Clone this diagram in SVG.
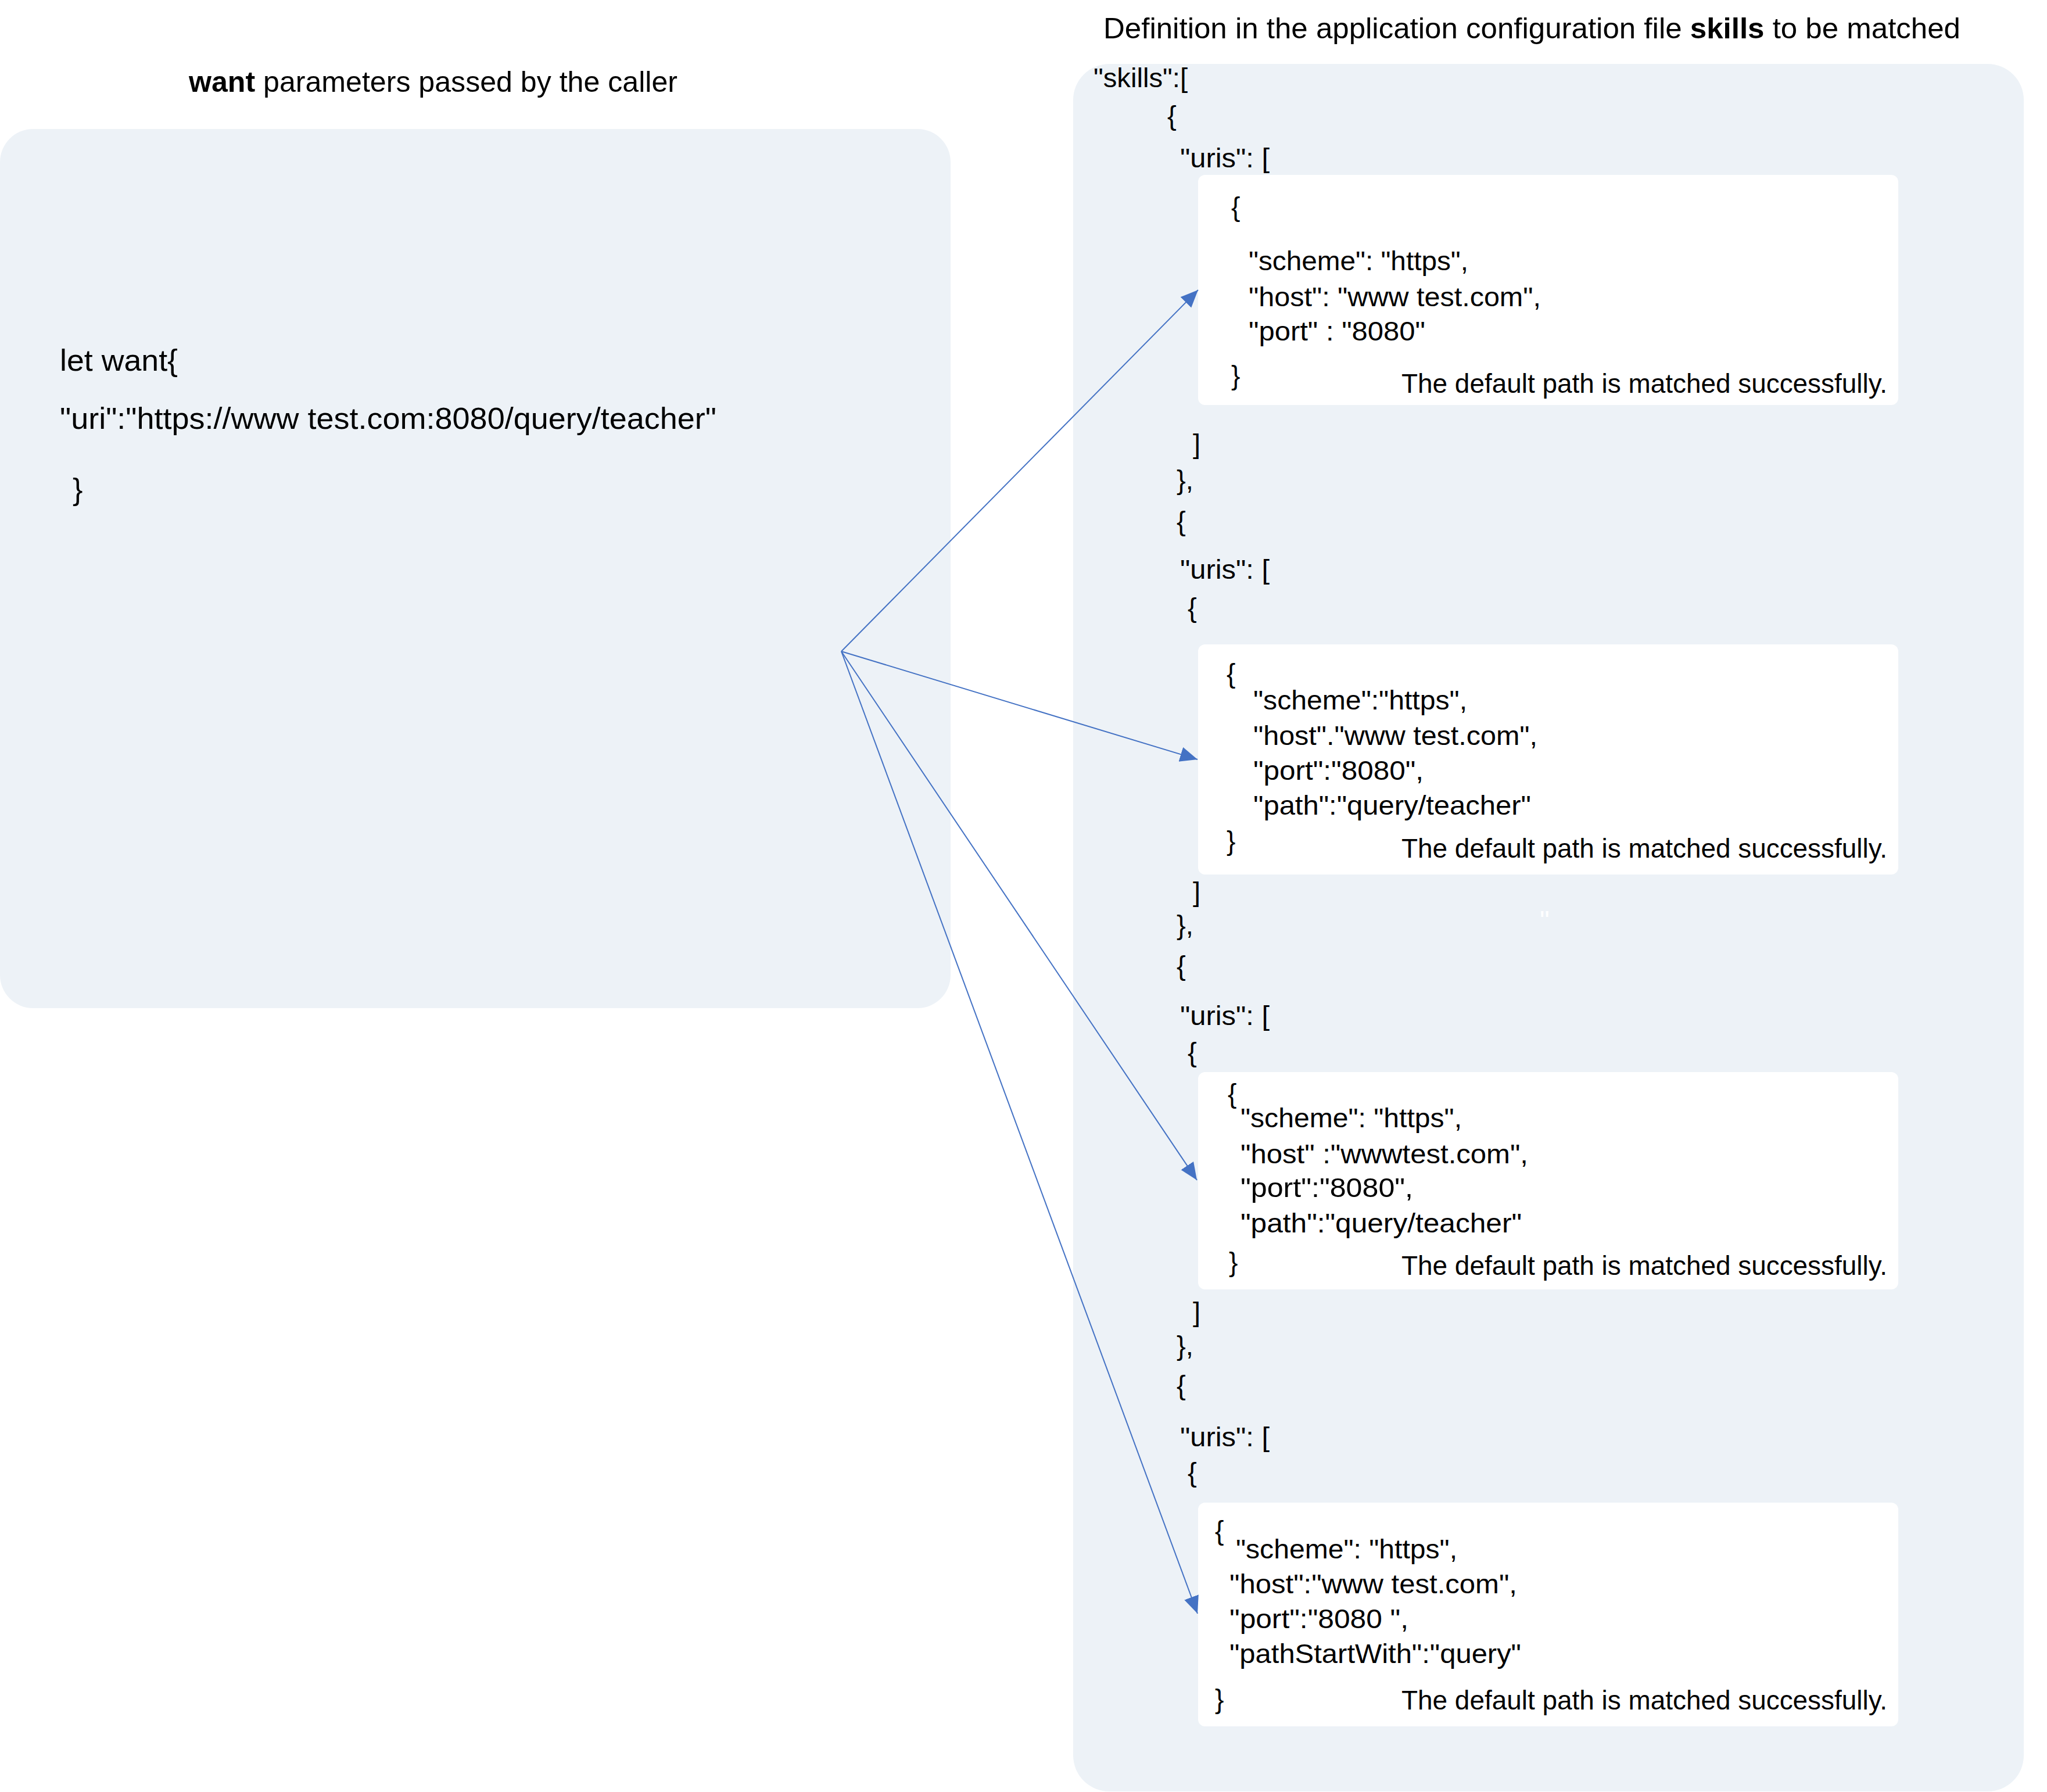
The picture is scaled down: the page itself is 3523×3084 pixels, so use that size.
<svg xmlns="http://www.w3.org/2000/svg" width="3523" height="3084" viewBox="0 0 3523 3084">
<style>
.t{font-family:"Liberation Sans",Arial,sans-serif;font-size:46px;fill:#000}
.h{font-size:50px}
.l{font-size:52px}
.o{font-size:47px}
.b{font-weight:bold}
.panel{fill:#EDF2F7}
.box{fill:#FFFFFF}
.conn{stroke:#4472C4;stroke-width:2;fill:none}
</style>
<defs>
<marker id="ah" markerUnits="userSpaceOnUse" markerWidth="32" markerHeight="28" refX="30" refY="13" orient="auto">
<path d="M0,0 L30,13 L0,26 Z" fill="#4472C4"/>
</marker>
</defs>
<rect width="3523" height="3084" fill="#FFFFFF"/>
<g id="title-left"><text class="t h" x="325" y="158" textLength="841" lengthAdjust="spacingAndGlyphs"><tspan class="b">want</tspan> parameters passed by the caller</text></g>
<g id="title-right"><text class="t h" x="1899" y="66" textLength="1475" lengthAdjust="spacingAndGlyphs">Definition in the application configuration file <tspan class="b">skills</tspan> to be matched</text></g>
<g id="want-node">
<rect class="panel" x="0" y="222" width="1636" height="1513" rx="57" ry="57"/>
<text class="t l" x="103" y="638" textLength="203" lengthAdjust="spacingAndGlyphs">let want{</text>
<text class="t l" x="103" y="738" textLength="1130" lengthAdjust="spacingAndGlyphs">"uri":"https://www test.com:8080/query/teacher"</text>
<text class="t l" x="125" y="860">}</text>
</g>
<g id="skills-node">
<rect class="panel" x="1847" y="110" width="1636" height="2973" rx="62" ry="62"/>
<text class="t o" x="1882" y="150" textLength="162" lengthAdjust="spacingAndGlyphs">"skills":[</text>
<text class="t o" x="2009" y="215">{</text>
<text class="t o" x="2031" y="288" textLength="154" lengthAdjust="spacingAndGlyphs">"uris": [</text>
<text class="t o" x="2053" y="780">]</text>
<text class="t o" x="2025" y="842">},</text>
<text class="t o" x="2025" y="913">{</text>
<text class="t o" x="2031" y="996" textLength="154" lengthAdjust="spacingAndGlyphs">"uris": [</text>
<text class="t o" x="2044" y="1062">{</text>
<text class="t o" x="2053" y="1551">]</text>
<text class="t o" x="2650" y="1600" style="fill:#FFFFFF">"</text>
<text class="t o" x="2025" y="1608">},</text>
<text class="t o" x="2025" y="1678">{</text>
<text class="t o" x="2031" y="1764" textLength="154" lengthAdjust="spacingAndGlyphs">"uris": [</text>
<text class="t o" x="2044" y="1827">{</text>
<text class="t o" x="2053" y="2274">]</text>
<text class="t o" x="2025" y="2332">},</text>
<text class="t o" x="2025" y="2400">{</text>
<text class="t o" x="2031" y="2489" textLength="154" lengthAdjust="spacingAndGlyphs">"uris": [</text>
<text class="t o" x="2044" y="2550">{</text>
</g>
<g id="uri-1">
<rect class="box" x="2062" y="301" width="1205" height="396" rx="12" ry="12"/>
<text class="t" x="2119" y="372">{</text>
<text class="t" x="2149" y="465" textLength="378" lengthAdjust="spacingAndGlyphs">"scheme": "https",</text>
<text class="t" x="2149" y="527" textLength="503" lengthAdjust="spacingAndGlyphs">"host": "www test.com",</text>
<text class="t" x="2149" y="586" textLength="304" lengthAdjust="spacingAndGlyphs">"port" : "8080"</text>
<text class="t" x="2119" y="662">}</text>
<text class="t" x="2412" y="676" textLength="836" lengthAdjust="spacingAndGlyphs">The default path is matched successfully.</text>
</g>
<g id="uri-2">
<rect class="box" x="2062" y="1109" width="1205" height="396" rx="12" ry="12"/>
<text class="t" x="2111" y="1175">{</text>
<text class="t" x="2157" y="1221" textLength="368" lengthAdjust="spacingAndGlyphs">"scheme":"https",</text>
<text class="t" x="2157" y="1282" textLength="489" lengthAdjust="spacingAndGlyphs">"host"."www test.com",</text>
<text class="t" x="2157" y="1342" textLength="293" lengthAdjust="spacingAndGlyphs">"port":"8080",</text>
<text class="t" x="2157" y="1402" textLength="478" lengthAdjust="spacingAndGlyphs">"path":"query/teacher"</text>
<text class="t" x="2111" y="1463">}</text>
<text class="t" x="2412" y="1476" textLength="836" lengthAdjust="spacingAndGlyphs">The default path is matched successfully.</text>
</g>
<g id="uri-3">
<rect class="box" x="2062" y="1845" width="1205" height="374" rx="12" ry="12"/>
<text class="t" x="2113" y="1898">{</text>
<text class="t" x="2135" y="1940" textLength="381" lengthAdjust="spacingAndGlyphs">"scheme": "https",</text>
<text class="t" x="2135" y="2002" textLength="495" lengthAdjust="spacingAndGlyphs">"host" :"wwwtest.com",</text>
<text class="t" x="2135" y="2060" textLength="297" lengthAdjust="spacingAndGlyphs">"port":"8080",</text>
<text class="t" x="2135" y="2121" textLength="484" lengthAdjust="spacingAndGlyphs">"path":"query/teacher"</text>
<text class="t" x="2115" y="2188">}</text>
<text class="t" x="2412" y="2194" textLength="836" lengthAdjust="spacingAndGlyphs">The default path is matched successfully.</text>
</g>
<g id="uri-4">
<rect class="box" x="2062" y="2586" width="1205" height="385" rx="12" ry="12"/>
<text class="t" x="2091" y="2650">{</text>
<text class="t" x="2127" y="2682" textLength="381" lengthAdjust="spacingAndGlyphs">"scheme": "https",</text>
<text class="t" x="2116" y="2742" textLength="495" lengthAdjust="spacingAndGlyphs">"host":"www test.com",</text>
<text class="t" x="2116" y="2802" textLength="308" lengthAdjust="spacingAndGlyphs">"port":"8080 ",</text>
<text class="t" x="2116" y="2862" textLength="502" lengthAdjust="spacingAndGlyphs">"pathStartWith":"query"</text>
<text class="t" x="2091" y="2940">}</text>
<text class="t" x="2412" y="2942" textLength="836" lengthAdjust="spacingAndGlyphs">The default path is matched successfully.</text>
</g>
<g id="connectors">
<line class="conn" x1="1448" y1="1121" x2="2062" y2="499" marker-end="url(#ah)"/>
<line class="conn" x1="1448" y1="1121" x2="2061" y2="1307" marker-end="url(#ah)"/>
<line class="conn" x1="1448" y1="1121" x2="2060" y2="2031" marker-end="url(#ah)"/>
<line class="conn" x1="1448" y1="1121" x2="2061" y2="2777" marker-end="url(#ah)"/>
</g>
</svg>
